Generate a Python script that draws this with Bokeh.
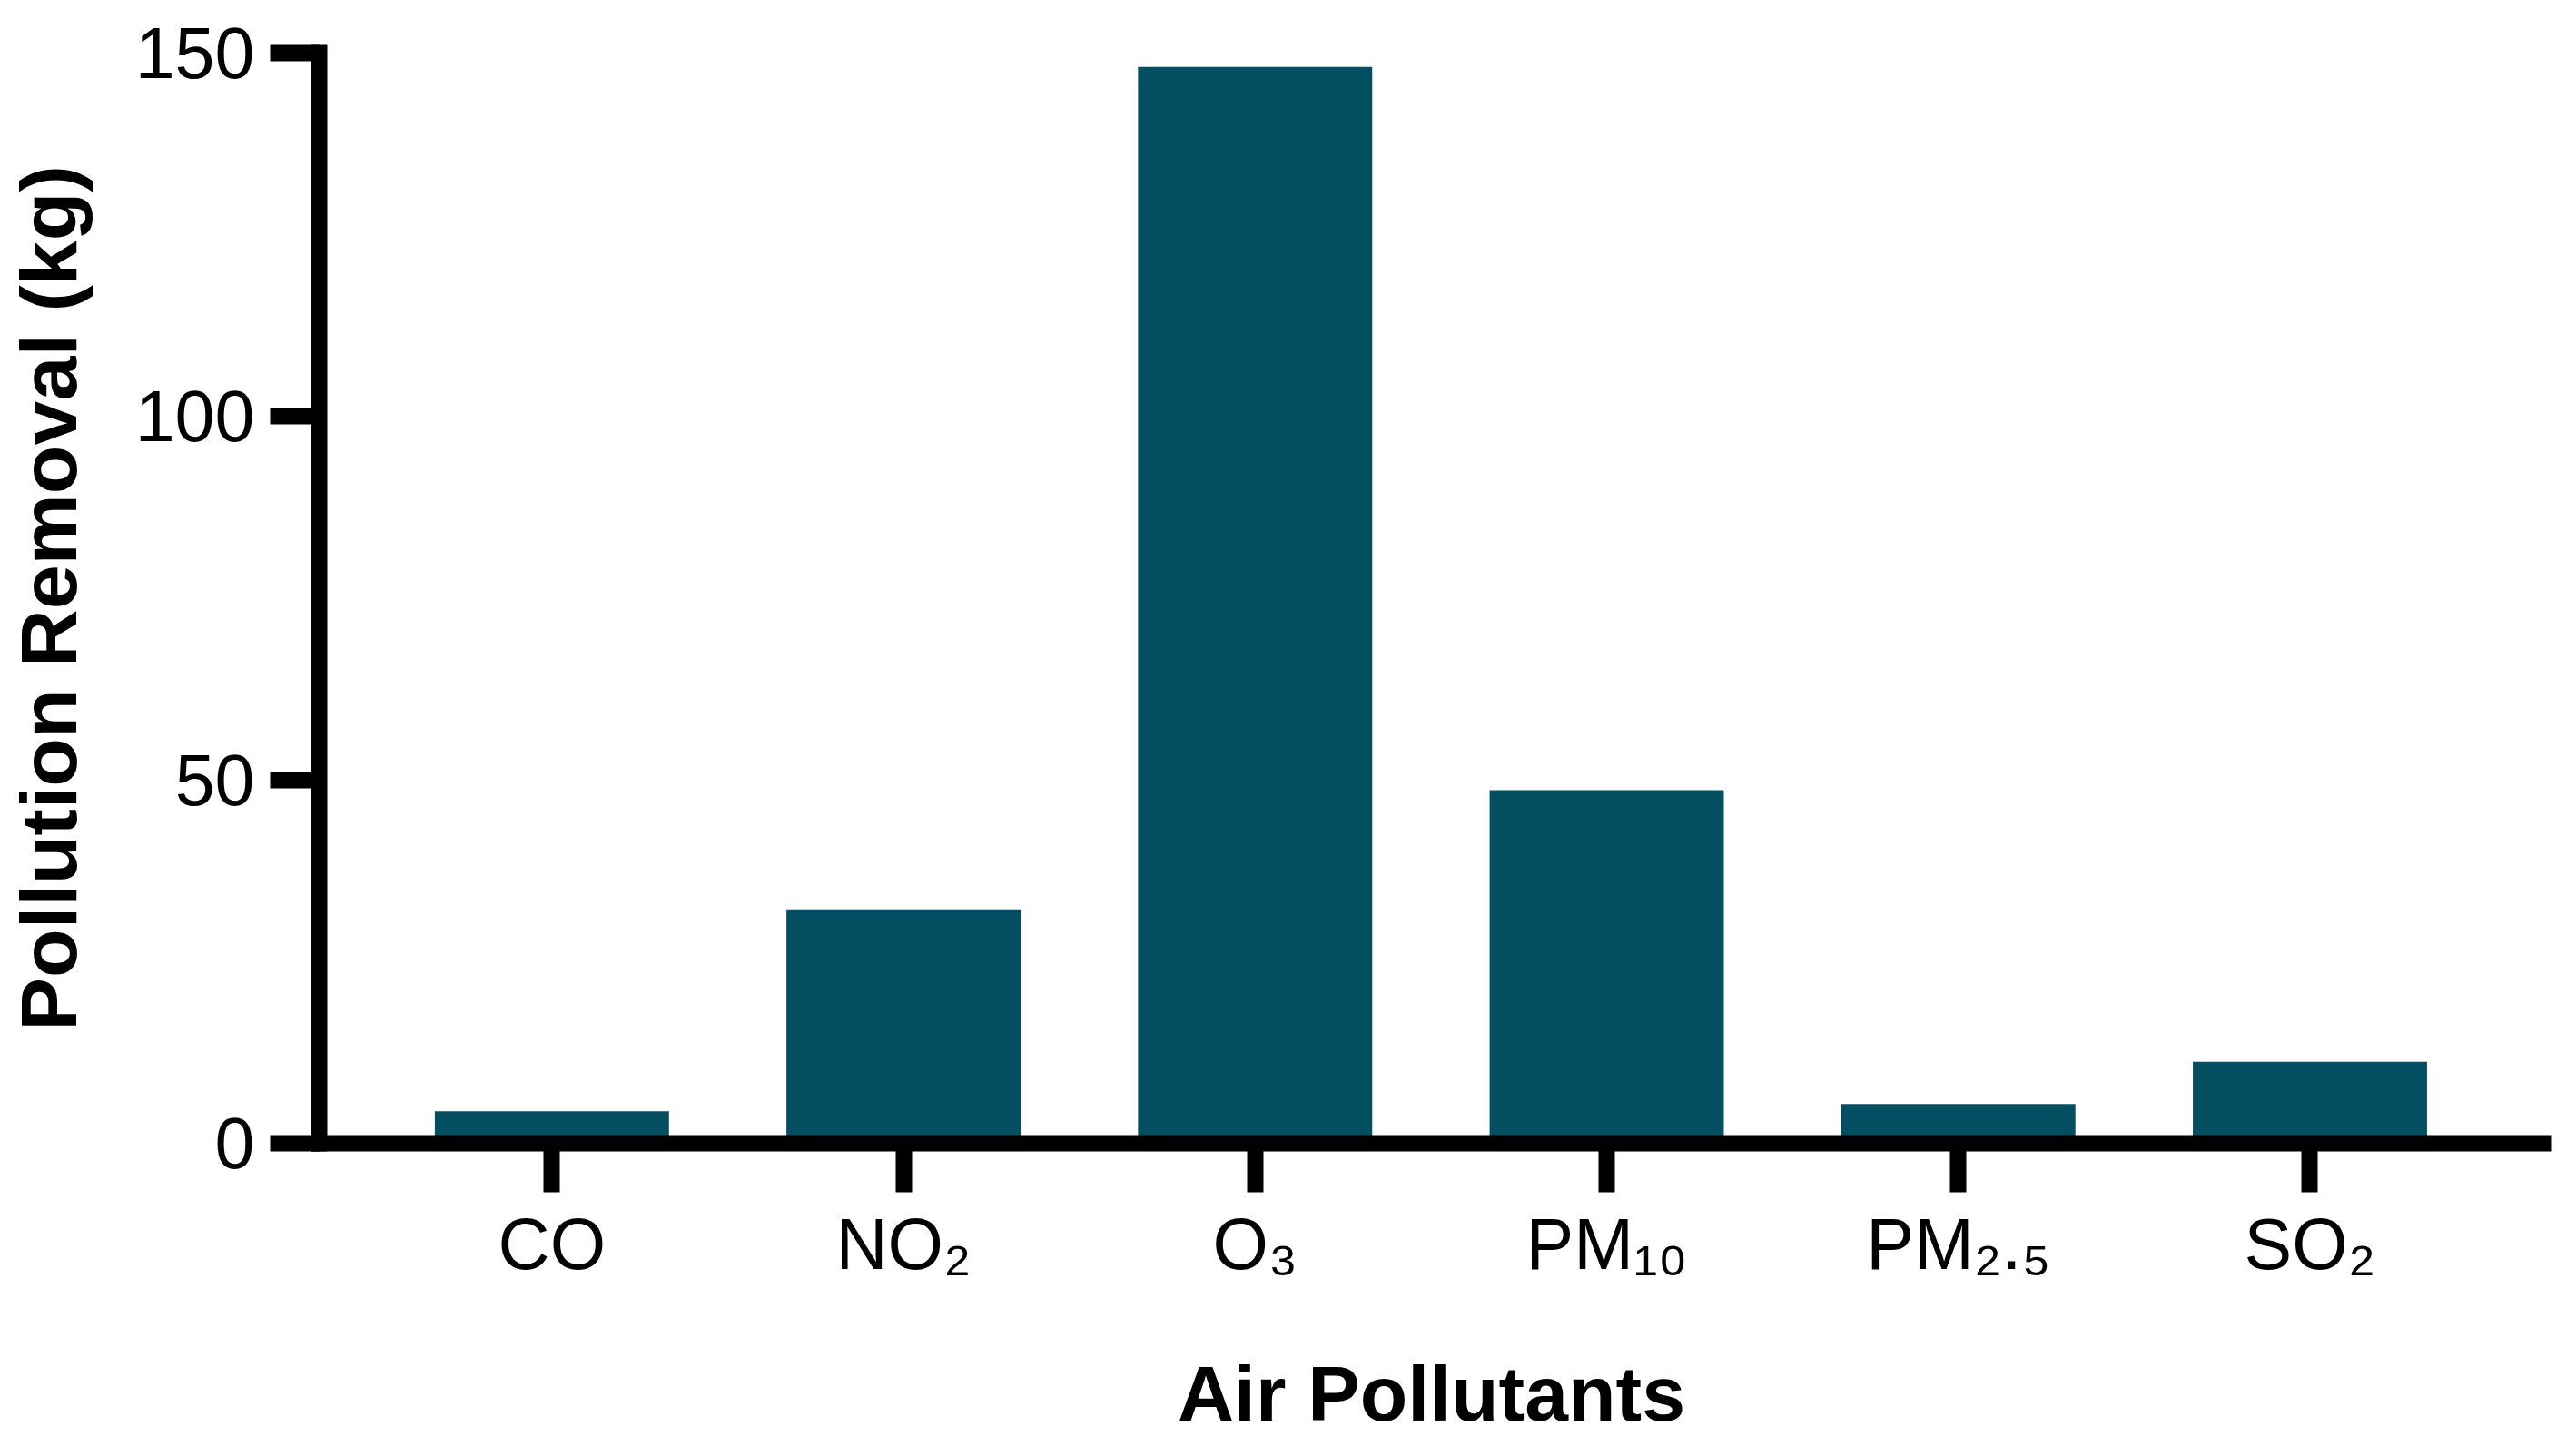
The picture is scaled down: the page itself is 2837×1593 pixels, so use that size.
from bokeh.plotting import figure
from bokeh.models import Range1d, FixedTicker, ColumnDataSource
from bokeh.embed import file_html
from bokeh.resources import INLINE

# ---- data ----
categories = ["CO", "NO2", "O3", "PM10", "PM2.5", "SO2"]
removal_kg = [4.4, 32.2, 148.1, 48.6, 5.4, 11.2]
tick_labels = ["CO", "NO\u2082", "O\u2083", "PM\u2081\u2080", "PM\u2082.\u2085", "SO\u2082"]
y_ticks = [0, 50, 100, 150]

# ---- style ----
BAR_COLOR = "#044E62"
FONT = "Liberation Sans"

xs = list(range(len(categories)))

p = figure(width=2829, height=1585, output_backend="svg", toolbar_location=None,
           x_range=Range1d(-0.662, 5.665), y_range=Range1d(0, 150),
           min_border_left=350, min_border_right=28,
           min_border_top=58, min_border_bottom=324)
p.outline_line_color = None
p.background_fill_color = "white"
p.border_fill_color = "white"
p.xgrid.visible = False
p.ygrid.visible = False

src = ColumnDataSource(dict(x=xs, top=removal_kg, cat=categories))
p.vbar(x="x", top="top", bottom=0, width=0.666, source=src,
       fill_color=BAR_COLOR, line_color=None)

# axes
for ax in (p.xaxis[0], p.yaxis[0]):
    ax.axis_line_width = 18
    ax.axis_line_color = "black"
    ax.axis_line_cap = "square"
    ax.major_tick_line_width = 18
    ax.major_tick_line_color = "black"
    ax.major_tick_out = 54
    ax.major_tick_in = 0
    ax.minor_tick_line_color = None
    ax.major_label_text_font = FONT
    ax.major_label_text_font_size = "79px"
    ax.major_label_text_color = "black"
    ax.axis_label_text_font = FONT
    ax.axis_label_text_font_style = "bold"
    ax.axis_label_text_color = "black"

p.yaxis.ticker = FixedTicker(ticks=y_ticks)
p.yaxis.major_label_standoff = 17
p.yaxis.axis_label = "Pollution Removal (kg)"
p.yaxis.axis_label_text_font_size = "88px"
p.yaxis.axis_label_standoff = 43

p.xaxis.ticker = FixedTicker(ticks=xs)
p.xaxis.major_label_overrides = {x: t for x, t in zip(xs, tick_labels)}
p.xaxis.major_label_standoff = 12
p.xaxis.axis_label = "Air Pollutants"
p.xaxis.axis_label_text_font_size = "86px"
p.xaxis.axis_label_standoff = 69

open("out.html", "w").write(file_html(p, INLINE))
